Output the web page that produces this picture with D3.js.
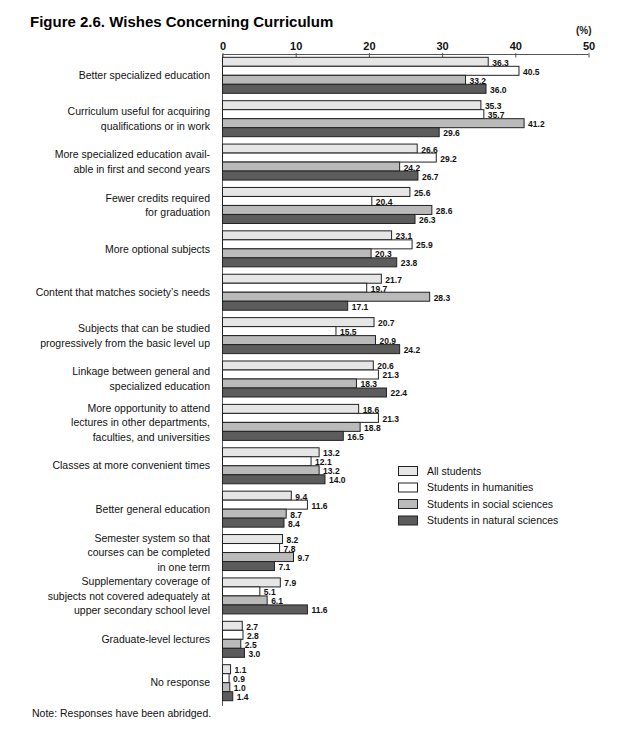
<!DOCTYPE html>
<html><head><meta charset="utf-8">
<script src="https://cdn.jsdelivr.net/npm/d3@7"></script>
<style>body{margin:0;background:#fff}svg{display:block}text{font-family:"Liberation Sans",Arial,sans-serif}</style>
</head><body><svg id="c" width="624" height="737"></svg>
<script>
const categories = [
 ["Better specialized education"],
 ["Curriculum useful for acquiring","qualifications or in work"],
 ["More specialized education avail-","able in first and second years"],
 ["Fewer credits required","for graduation"],
 ["More optional subjects"],
 ["Content that matches society’s needs"],
 ["Subjects that can be studied","progressively from the basic level up"],
 ["Linkage between general and","specialized education"],
 ["More opportunity to attend","lectures in other departments,","faculties, and universities"],
 ["Classes at more convenient times"],
 ["Better general education"],
 ["Semester system so that","courses can be completed","in one term"],
 ["Supplementary coverage of","subjects not covered adequately at","upper secondary school level"],
 ["Graduate-level lectures"],
 ["No response"]
];
const seriesNames = ["All students","Students in humanities","Students in social sciences","Students in natural sciences"];
const allStudents = [36.3,35.3,26.6,25.6,23.1,21.7,20.7,20.6,18.6,13.2,9.4,8.2,7.9,2.7,1.1];
const humanities  = [40.5,35.7,29.2,20.4,25.9,19.7,15.5,21.3,21.3,12.1,11.6,7.8,5.1,2.8,0.9];
const social      = [33.2,41.2,24.2,28.6,20.3,28.3,20.9,18.3,18.8,13.2,8.7,9.7,6.1,2.5,1.0];
const natural     = [36.0,29.6,26.7,26.3,23.8,17.1,24.2,22.4,16.5,14.0,8.4,7.1,11.6,3.0,1.4];
const tickValues = [0,10,20,30,40,50];
const colors = ["#e6e6e6","#ffffff","#bababa","#5c5c5c"];

const series = [allStudents, humanities, social, natural];
const svg = d3.select("#c");

svg.append("text").attr("x",30).attr("y",27).attr("font-size",15).attr("font-weight","bold").text("Figure 2.6. Wishes Concerning Curriculum");
svg.append("text").attr("x",576).attr("y",34).attr("font-size",10).attr("font-weight","bold").attr("fill","#222").text("(%)");

const x = d3.scaleLinear().domain([0,50]).range([222.5,588.5]);
const idx = d3.range(categories.length);
const y = d3.scaleBand().domain(idx).range([57.3,700.7]).paddingInner(0.17).paddingOuter(0);
const ys = d3.scaleBand().domain(d3.range(4)).range([0,y.bandwidth()]);

// top axis
const ax = svg.append("g").attr("transform","translate(0,54.5)")
  .call(d3.axisTop(x).tickValues(tickValues).tickSize(0).tickPadding(4.5).tickFormat(d3.format("d")));
ax.select(".domain").attr("stroke","#555").attr("d", `M${x(0)},0H${x(50)}`);
ax.selectAll(".tick line").attr("stroke","#555").attr("y1",-1.5).attr("y2",3);
ax.selectAll(".tick text").attr("font-size",11).attr("font-weight","bold").attr("fill","#111").attr("font-family",'"Liberation Sans",Arial,sans-serif');

// left axis line
svg.append("line").attr("x1",x(0)).attr("x2",x(0)).attr("y1",54.5).attr("y2",706).attr("stroke","#555");

const g = svg.append("g");
idx.forEach(i=>{
  const grp = g.append("g").attr("transform",`translate(0,${y(i)})`);
  series.forEach((s,k)=>{
    grp.append("rect").attr("x",x(0)).attr("y",ys(k)).attr("width",x(s[i])-x(0)).attr("height",ys.bandwidth())
      .attr("fill",colors[k]).attr("stroke","#222").attr("stroke-width",1);
    grp.append("text").attr("x",x(s[i])+4).attr("y",ys(k)+ys.bandwidth()/2+1).attr("dy","0.35em")
      .attr("font-size",8.5).attr("font-weight","bold").attr("fill","#111").text(d3.format(".1f")(s[i]));
  });
  const lines = categories[i];
  const cy = y(i)+y.bandwidth()/2;
  const lh = 14.5;
  lines.forEach((ln,j)=>{
    svg.append("text").attr("x",210).attr("y",cy+(j-(lines.length-1)/2)*lh).attr("dy","0.35em")
      .attr("text-anchor","end").attr("font-size",10.5).attr("fill","#111").text(ln);
  });
});

// legend
const lg = svg.append("g").attr("transform","translate(398,466)");
seriesNames.forEach((n,k)=>{
  const r = lg.append("g").attr("transform",`translate(0,${k*16.5})`);
  r.append("rect").attr("x",0.5).attr("y",0.5).attr("width",19).attr("height",9).attr("fill",colors[k]).attr("stroke","#222");
  r.append("text").attr("x",29).attr("y",5).attr("dy","0.35em").attr("font-size",10.5).attr("fill","#111").text(n);
});

svg.append("text").attr("x",32).attr("y",717).attr("font-size",10.5).attr("fill","#111").text("Note: Responses have been abridged.");
</script></body></html>
